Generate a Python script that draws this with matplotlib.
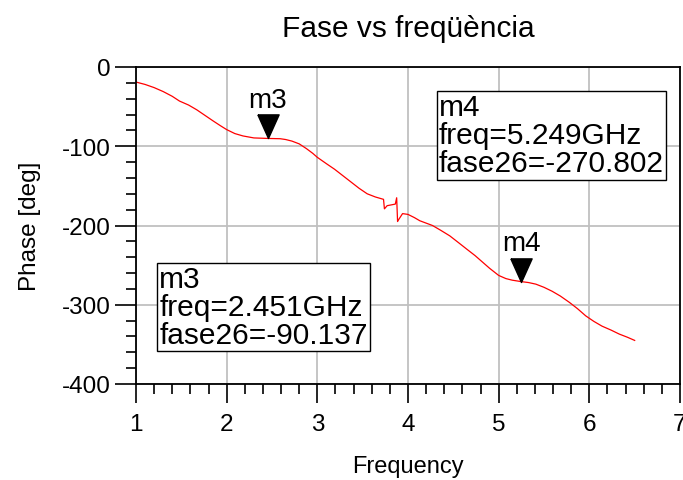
import numpy as np
import matplotlib
matplotlib.use("Agg")
from matplotlib import pyplot as plt
from matplotlib.ticker import MultipleLocator

plt.rcParams['font.family'] = ['Liberation Sans', 'DejaVu Sans']
plt.rcParams['axes.unicode_minus'] = False

# phase curve
freq = [1.0, 1.1, 1.2, 1.3, 1.4, 1.48, 1.58, 1.67, 1.76, 1.85, 1.93, 2.0, 2.09,
        2.18, 2.3, 2.451, 2.59, 2.65, 2.72, 2.8, 2.88, 2.95, 3.0, 3.1, 3.19,
        3.28, 3.37, 3.46, 3.55, 3.64, 3.73, 3.74, 3.77, 3.86, 3.875, 3.885, 3.90,
        3.94, 4.0, 4.07, 4.13, 4.2, 4.27, 4.36, 4.46, 4.55, 4.65, 4.74, 4.82, 4.9,
        5.0, 5.08, 5.15, 5.249, 5.33, 5.41, 5.5, 5.59, 5.68, 5.78, 5.87, 5.96,
        6.05, 6.14, 6.24, 6.33, 6.42, 6.5]
phase = [-19, -22, -26, -31, -37, -43, -48, -54, -61, -68, -74, -79, -84,
         -87, -89.5, -90.137, -90.5, -91.5, -93.5, -97, -103, -109, -114, -122, -129,
         -137, -145, -153, -160, -164, -167, -179, -175, -173, -165, -195, -192,
         -185, -186, -190, -194, -197, -200, -206, -213, -221, -230, -238, -246, -254,
         -263, -267, -269, -270.802, -272, -274, -278, -283, -289, -297, -305, -314,
         -321, -327, -332, -337, -341, -345]

markers = ['m3', 'm4']
marker_freq = [2.451, 5.249]
marker_phase = [-90.137, -270.802]

tri = matplotlib.path.Path([(-0.45, 1), (0.45, 1), (0, 0), (-0.45, 1)])

fig = plt.figure(figsize=(6.83, 4.81), dpi=100)
ax = fig.add_axes([136/683, 1-385/481, 544/683, 317/481])

ax.plot(freq, phase, color='red', lw=0.9)

for name, f, p in zip(markers, marker_freq, marker_phase):
    ax.plot([f], [p], marker=tri, markersize=34, color='black', ls='none')
    ax.annotate(name, (f, p), xytext=(0, 28), textcoords='offset points',
                ha='center', va='center', fontsize=20)

ax.text(0.043, 0.243, "m3\nfreq=2.451GHz\nfase26=-90.137", transform=ax.transAxes,
        ha='left', va='center', fontsize=21.5, linespacing=1.0,
        bbox=dict(boxstyle='square,pad=0.08', fc='white', ec='black', lw=1))
ax.text(0.557, 0.784, "m4\nfreq=5.249GHz\nfase26=-270.802", transform=ax.transAxes,
        ha='left', va='center', fontsize=21.5, linespacing=1.0,
        bbox=dict(boxstyle='square,pad=0.08', fc='white', ec='black', lw=1))

ax.set_xlim(1, 7)
ax.set_ylim(-400, 0)
ax.xaxis.set_major_locator(MultipleLocator(1))
ax.xaxis.set_minor_locator(MultipleLocator(0.2))
ax.yaxis.set_major_locator(MultipleLocator(100))
ax.yaxis.set_minor_locator(MultipleLocator(20))
ax.grid(True, which='major', color='#c0c0c0', lw=1.3)
ax.set_axisbelow(True)

ax.tick_params(axis='y', which='major', length=15, width=1.2, labelsize=17.5, pad=3)
ax.tick_params(axis='y', which='minor', length=7, width=1.2)
ax.tick_params(axis='x', which='major', length=14, width=1.2, labelsize=17.5, pad=7)
ax.tick_params(axis='x', which='minor', length=7, width=1.2)
for s in ax.spines.values():
    s.set_linewidth(1.3)

ax.set_xlabel('Frequency', fontsize=17, labelpad=14)
ax.set_ylabel('Phase [deg]', fontsize=17.5, labelpad=15)
ax.set_title('Fase vs freqüència', fontsize=21.5, pad=22)

fig.savefig('out.png', dpi=100)
